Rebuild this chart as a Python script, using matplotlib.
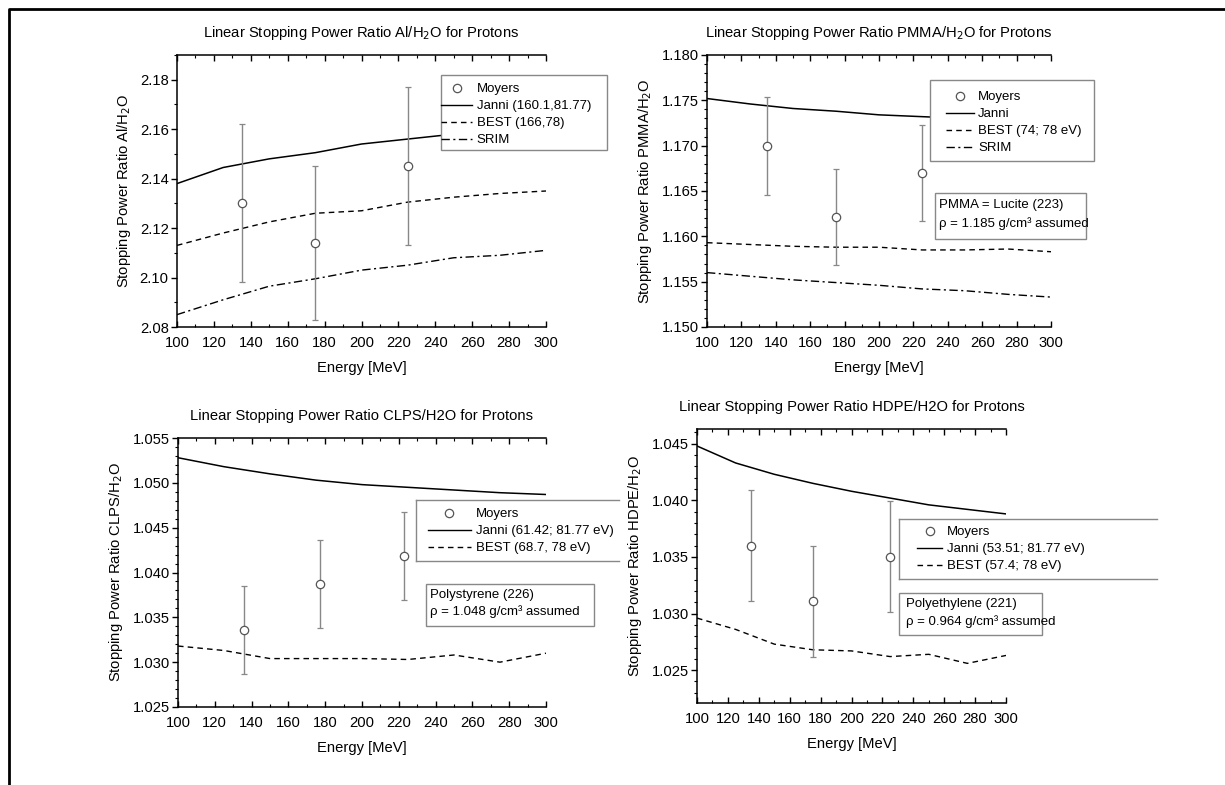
import matplotlib
matplotlib.use("Agg")
import matplotlib.pyplot as plt
from matplotlib.lines import Line2D
from matplotlib.patches import Rectangle
from matplotlib.ticker import MultipleLocator, FormatStrFormatter

FS = 10.6      # axes text
LFS = 9.5      # legends and notes
plt.rcParams['font.family'] = ['Liberation Sans', 'DejaVu Sans']
plt.rcParams['font.size'] = FS

# energy grid of the calculated curves [MeV]
energy = [100, 125, 150, 175, 200, 225, 250, 275, 300]

# Al / H2O
al_janni = [2.138, 2.1445, 2.148, 2.1505, 2.154, 2.156, 2.158, 2.1595, 2.161]
al_best = [2.113, 2.118, 2.1225, 2.126, 2.127, 2.1305, 2.1325, 2.134, 2.135]
al_srim = [2.085, 2.091, 2.0965, 2.0995, 2.103, 2.105, 2.108, 2.109, 2.111]
al_moy_e = [135, 175, 225]
al_moy = [2.130, 2.114, 2.145]
al_moy_err = [0.032, 0.031, 0.032]

# PMMA / H2O
pmma_janni = [1.1752, 1.1746, 1.1741, 1.1738, 1.1734, 1.1732, 1.1730, 1.1728, 1.1727]
pmma_best = [1.1593, 1.1591, 1.1589, 1.1588, 1.1588, 1.1585, 1.1585, 1.1586, 1.1583]
pmma_srim = [1.1560, 1.1556, 1.1552, 1.1549, 1.1546, 1.1542, 1.1540, 1.1536, 1.1533]
pmma_moy_e = [135, 175, 225]
pmma_moy = [1.1700, 1.1621, 1.1670]
pmma_moy_err = [0.0054, 0.0053, 0.0053]

# CLPS / H2O
clps_janni = [1.0528, 1.0518, 1.0510, 1.0503, 1.0498, 1.0495, 1.0492, 1.0489, 1.0487]
clps_best = [1.0318, 1.0313, 1.0304, 1.0304, 1.0304, 1.0303, 1.0308, 1.0300, 1.0310]
clps_moy_e = [136, 177, 223]
clps_moy = [1.0336, 1.0387, 1.0418]
clps_moy_err = [0.0049, 0.0049, 0.0049]

# HDPE / H2O
hdpe_janni = [1.0448, 1.0433, 1.0423, 1.0415, 1.0408, 1.0402, 1.0396, 1.0392, 1.0388]
hdpe_best = [1.0296, 1.0286, 1.0273, 1.0268, 1.0267, 1.0262, 1.0264, 1.0256, 1.0263]
hdpe_moy_e = [135, 175, 225]
hdpe_moy = [1.0360, 1.0311, 1.0350]
hdpe_moy_err = [0.0049, 0.0049, 0.0049]

W, H = 1225, 785
fig = plt.figure(figsize=(W / 100, H / 100), dpi=100)


def fx(x):
    return x / W


def fy(y):
    return 1 - y / H


def panel(l, t, r, b):
    return fig.add_axes([fx(l), fy(b), (r - l) / W, (b - t) / H])


BEST_LS = (0, (4, 3))
SRIM_LS = (0, (6, 2.5, 1.5, 2.5))
PT = dict(mfc='white', mec='#555555', ms=6, mew=0.9)


def draw(ax, janni, best, srim, me, mv, merr, ylim, ymaj, ymin, fmt, title, ylabel):
    ax.plot(energy, janni, color='k', lw=1.1)
    ax.plot(energy, best, color='k', ls=BEST_LS, lw=1.0)
    if srim is not None:
        ax.plot(energy, srim, color='k', ls=SRIM_LS, lw=1.0)
    ax.errorbar(me, mv, yerr=merr, fmt='o', ecolor='#888888', elinewidth=1,
                capsize=2.5, capthick=1, **PT)
    ax.set_xlim(100, 300)
    ax.set_ylim(*ylim)
    ax.xaxis.set_major_locator(MultipleLocator(20))
    ax.xaxis.set_minor_locator(MultipleLocator(10))
    ax.yaxis.set_major_locator(MultipleLocator(ymaj))
    ax.yaxis.set_minor_locator(MultipleLocator(ymin))
    ax.yaxis.set_major_formatter(FormatStrFormatter(fmt))
    ax.spines['right'].set_visible(False)
    for s in ('left', 'bottom', 'top'):
        ax.spines[s].set_linewidth(1.1)
    ax.tick_params(axis='x', which='both', direction='in', top=True, bottom=True)
    ax.tick_params(axis='x', which='major', pad=6.5)
    ax.tick_params(axis='y', which='both', direction='out', right=False)
    ax.tick_params(axis='y', which='major', pad=1.5)
    ax.tick_params(which='major', length=4.5, width=1)
    ax.tick_params(which='minor', length=2.5, width=0.8)
    ax.set_xlabel('Energy [MeV]', labelpad=8)
    ax.set_ylabel(ylabel, labelpad=5)
    ax.set_title(title, pad=13, fontsize=FS)


def box(l, t, r, b, open_right=False):
    fig.patches.append(Rectangle((fx(l), fy(b)), (r - l) / W, (b - t) / H,
                                 transform=fig.transFigure, fc='white',
                                 ec='none' if open_right else '#888888',
                                 lw=1.0, zorder=1))
    if open_right:
        for xs, ys in (([l, r], [t, t]), ([l, r], [b, b]), ([l, l], [t, b])):
            fig.lines.append(Line2D([fx(v) for v in xs], [fy(v) for v in ys],
                                    transform=fig.transFigure, color='#888888',
                                    lw=1.0, zorder=1.1))


def legend(labels, styles, x, y, hl):
    handles = [Line2D([], [], ls='none', marker='o', **PT)]
    for ls in styles:
        handles.append(Line2D([], [], color='k', ls=ls, lw=1.0))
    fig.legend(handles, labels, loc='upper left', bbox_to_anchor=(fx(x), fy(y)),
               bbox_transform=fig.transFigure, frameon=False, borderpad=0,
               borderaxespad=0, handlelength=hl, handletextpad=0.35,
               labelspacing=0.36, fontsize=LFS)


def note(l, t, r, b, lines, tx, ty, ls):
    box(l, t, r, b)
    fig.text(fx(tx), fy(ty), lines, ha='left', va='top', fontsize=LFS,
             linespacing=ls, zorder=3)


ax1 = panel(177, 55, 546, 327)
draw(ax1, al_janni, al_best, al_srim, al_moy_e, al_moy, al_moy_err,
     (2.08, 2.19), 0.02, 0.01, '%.2f',
     'Linear Stopping Power Ratio Al/H$_2$O for Protons',
     'Stopping Power Ratio Al/H$_2$O')

ax2 = panel(707, 55, 1051, 327)
draw(ax2, pmma_janni, pmma_best, pmma_srim, pmma_moy_e, pmma_moy, pmma_moy_err,
     (1.150, 1.180), 0.005, 0.001, '%.3f',
     'Linear Stopping Power Ratio PMMA/H$_2$O for Protons',
     'Stopping Power Ratio PMMA/H$_2$O')

ax3 = panel(178, 438, 546, 707)
draw(ax3, clps_janni, clps_best, None, clps_moy_e, clps_moy, clps_moy_err,
     (1.025, 1.055), 0.005, 0.001, '%.3f',
     'Linear Stopping Power Ratio CLPS/H2O for Protons',
     'Stopping Power Ratio CLPS/H$_2$O')

ax4 = panel(697, 429, 1006, 703)
draw(ax4, hdpe_janni, hdpe_best, None, hdpe_moy_e, hdpe_moy, hdpe_moy_err,
     (1.0221, 1.0463), 0.005, 0.001, '%.3f',
     'Linear Stopping Power Ratio HDPE/H2O for Protons',
     'Stopping Power Ratio HDPE/H$_2$O')

# legend frames and legends
box(441, 75, 607, 150)
legend(['Moyers', 'Janni (160.1,81.77)', 'BEST (166,78)', 'SRIM'],
       ['-', BEST_LS, SRIM_LS], 441, 83, 2.35)

box(930, 80, 1094, 161)
legend(['Moyers', 'Janni', 'BEST (74; 78 eV)', 'SRIM'],
       ['-', BEST_LS, SRIM_LS], 946, 91, 2.1)

box(416, 500, 619, 561, open_right=True)
legend(['Moyers', 'Janni (61.42; 81.77 eV)', 'BEST (68.7, 78 eV)'],
       ['-', BEST_LS], 428, 508, 3.25)

box(899, 519, 1157, 579, open_right=True)
legend(['Moyers', 'Janni (53.51; 81.77 eV)', 'BEST (57.4; 78 eV)'],
       ['-', BEST_LS], 917, 526, 1.9)

note(935, 193, 1086, 239, 'PMMA = Lucite (223)\n\u03c1 = 1.185 g/cm\u00b3 assumed', 939, 199, 1.6)
note(426, 584, 594, 626, 'Polystyrene (226)\n\u03c1 = 1.048 g/cm\u00b3 assumed', 430, 589, 1.4)
note(899, 593, 1042, 635, 'Polyethylene (221)\n\u03c1 = 0.964 g/cm\u00b3 assumed', 906, 598, 1.5)

# outer frame of the figure
fig.lines.append(Line2D([fx(9), fx(9), fx(W)], [fy(H), fy(9), fy(9)],
                        transform=fig.transFigure, color='k', lw=2.0))

fig.savefig('out.png', dpi=100)
